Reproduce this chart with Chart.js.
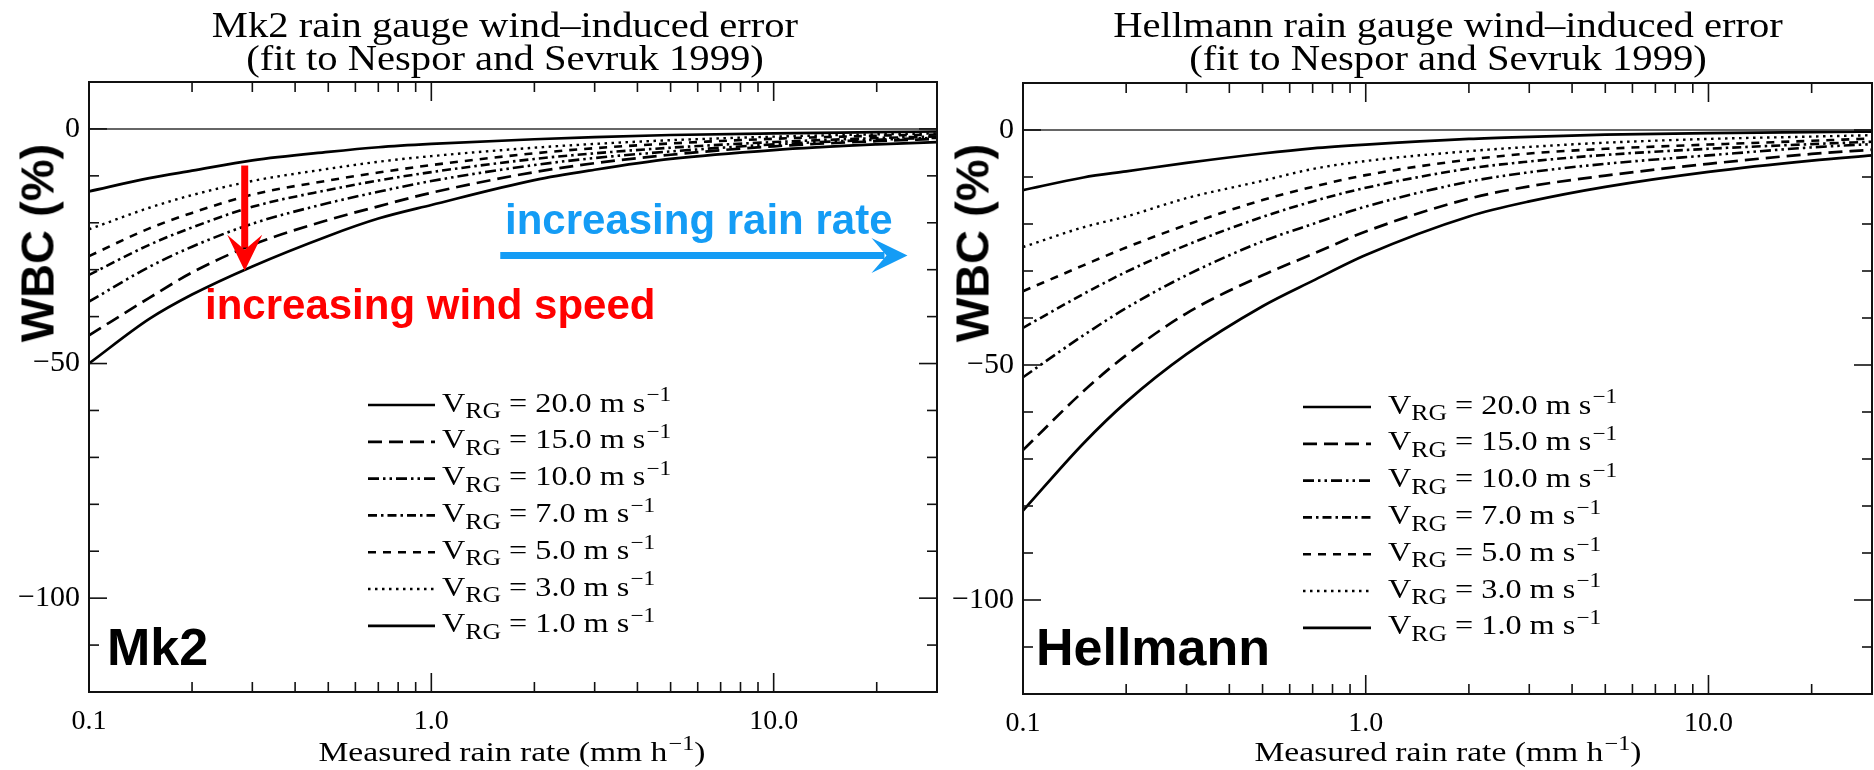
<!DOCTYPE html>
<html><head><meta charset="utf-8">
<script src="https://cdn.jsdelivr.net/npm/chart.js@4.4.1/dist/chart.umd.min.js"></script>
<style>
html,body{margin:0;padding:0;background:#fff;}
#wrap{position:relative;width:1874px;height:770px;overflow:hidden;background:#fff;}
canvas{position:absolute;top:0;}
.t{position:absolute;white-space:nowrap;line-height:0;}
.serif{font-family:'Liberation Serif','DejaVu Serif',serif;color:#000;}
.sans{font-family:'Liberation Sans',Arial,sans-serif;font-weight:bold;}
.sub{position:relative;font-size:0.8em;top:0.3em;}
.sup{position:relative;font-size:0.72em;top:-0.5em;margin-left:1px;}
.rot{position:absolute;white-space:nowrap;line-height:1;font-size:47px;color:#000;transform:translate(-50%,-50%) rotate(-90deg);}
</style></head>
<body><div id="wrap">
<canvas id="c1" width="940" height="770" style="left:0px"></canvas>
<canvas id="c2" width="934" height="770" style="left:940px"></canvas>
</div>
<script>
// ---------------- data ----------------
const rainRate = [0.1, 0.15, 0.2, 0.3, 0.5, 0.7, 1, 2, 3, 5, 10, 20, 30];
const windLabels = ['20.0', '15.0', '10.0', '7.0', '5.0', '3.0', '1.0'];

const mk2_20 = [-50.0, -40.5, -35.3, -29.3, -22.8, -19.1, -16.2, -10.9, -8.7, -6.4, -4.5, -3.3, -2.8];
const mk2_15 = [-44.0, -36.0, -30.6, -24.7, -19.4, -16.5, -13.6, -9.2, -7.3, -5.5, -3.7, -2.6, -2.1];
const mk2_10 = [-36.8, -29.4, -25.1, -20.2, -15.8, -13.4, -11.1, -7.7, -6.2, -4.8, -3.3, -2.3, -1.9];
const mk2_7  = [-31.1, -24.7, -21.0, -16.6, -13.0, -11.0, -9.2, -6.4, -5.2, -4.0, -2.8, -1.95, -1.6];
const mk2_5  = [-27.1, -21.2, -17.9, -14.0, -11.0, -9.3, -7.7, -5.2, -4.1, -3.1, -2.1, -1.45, -1.2];
const mk2_3  = [-21.4, -16.8, -14.1, -11.1, -8.5, -7.0, -5.8, -4.0, -3.2, -2.4, -1.65, -1.15, -0.95];
const mk2_1  = [-13.3, -10.5, -8.9, -6.7, -4.9, -3.9, -3.2, -2.2, -1.75, -1.3, -0.95, -0.7, -0.55];

const hel_20 = [-81.0, -66.7, -57.9, -47.7, -37.5, -32.1, -26.6, -18.4, -15.2, -12.1, -8.9, -6.5, -5.4];
const hel_15 = [-68.1, -55.6, -47.9, -39.0, -30.9, -26.4, -21.6, -14.6, -12.0, -9.7, -7.2, -5.1, -4.2];
const hel_10 = [-52.6, -43.7, -37.9, -30.9, -23.7, -20.0, -16.3, -11.0, -9.0, -7.2, -5.4, -3.7, -3.0];
const hel_7  = [-42.1, -34.9, -30.2, -24.5, -18.5, -15.2, -12.3, -8.2, -6.7, -5.3, -4.0, -3.0, -2.5];
const hel_5  = [-34.3, -28.8, -25.0, -20.2, -14.9, -12.1, -9.6, -6.3, -5.0, -4.0, -3.1, -2.3, -1.8];
const hel_3  = [-24.9, -20.7, -18.4, -14.5, -10.8, -8.3, -6.6, -4.5, -3.6, -2.7, -1.9, -1.4, -1.1];
const hel_1  = [-12.8, -10.1, -8.8, -7.0, -5.0, -3.9, -3.1, -1.9, -1.45, -1.0, -0.65, -0.45, -0.35];

const xTickLabels = [0.1, 1, 10];
const xMinorTicks = [0.2, 0.3, 0.4, 0.5, 0.6, 0.7, 0.8, 0.9, 2, 3, 4, 5, 6, 7, 8, 9, 20];
const yTickLabels = [0, -50, -100];
const yMinorTicks = [-10, -20, -30, -40, -60, -70, -80, -90, -110];

const redArrow = {x: 0.285, yFrom: -7.8, yTo: -30.2};
const blueArrow = {y: -27.0, xFrom: 1.59, xTo: 24.6};

// ---------------- styles ----------------
const lineStyles = [
  {dash: [], width: 2.7},
  {dash: [14, 7], width: 2.7},
  {dash: [11, 4, 2.5, 4, 2.5, 4], width: 2.6},
  {dash: [9, 4, 2.5, 4], width: 2.6},
  {dash: [8, 7], width: 2.6},
  {dash: [2.5, 4.5], width: 2.4},
  {dash: [], width: 2.7}
];

const framePlugin = {
  id: 'frame',
  afterDraw(chart) {
    const o = chart.options.plugins.frame;
    const {ctx, chartArea: a} = chart;
    const x = chart.scales.x, y = chart.scales.y;
    const ln = (x1, y1, x2, y2) => { ctx.beginPath(); ctx.moveTo(x1, y1); ctx.lineTo(x2, y2); ctx.stroke(); };
    ctx.save();
    ctx.setLineDash([]);
    ctx.strokeStyle = '#333';
    ctx.lineWidth = 1.5;
    const y0 = y.getPixelForValue(0);
    ln(a.left, y0, a.right, y0);
    ctx.strokeStyle = '#111';
    ctx.lineWidth = 2;
    ctx.strokeRect(a.left, a.top, a.right - a.left, a.bottom - a.top);
    ctx.lineWidth = 1.6;
    const yt = (v, L) => { const p = y.getPixelForValue(v); ln(a.left, p, a.left + L, p); ln(a.right, p, a.right - L, p); };
    yTickLabels.forEach(v => yt(v, 18));
    yMinorTicks.forEach(v => yt(v, 10));
    const xt = (v, L) => { const p = x.getPixelForValue(v); ln(p, a.bottom, p, a.bottom - L); ln(p, a.top, p, a.top + L); };
    xTickLabels.forEach(v => xt(v, 19));
    xMinorTicks.forEach(v => xt(v, 10));
    // legend samples
    chart.data.datasets.forEach((ds, i) => {
      const ly = o.legY + i * o.legDy;
      ctx.strokeStyle = '#000';
      ctx.lineWidth = ds.borderWidth;
      ctx.setLineDash(ds.borderDash || []);
      ln(o.legX0, ly, o.legX1, ly);
    });
    ctx.setLineDash([]);
    if (o.arrows) {
      const rx = x.getPixelForValue(redArrow.x);
      drawArrow(ctx, rx, y.getPixelForValue(redArrow.yFrom), rx, y.getPixelForValue(redArrow.yTo), '#ff0000');
      const by = y.getPixelForValue(blueArrow.y);
      drawArrow(ctx, x.getPixelForValue(blueArrow.xFrom), by, x.getPixelForValue(blueArrow.xTo), by, '#149cf5');
    }
    ctx.restore();
  }
};

function drawArrow(ctx, x1, y1, x2, y2, color) {
  const dx = x2 - x1, dy = y2 - y1, d = Math.hypot(dx, dy);
  const ux = dx / d, uy = dy / d, nx = -uy, ny = ux;
  const headLen = 36, half = 17.5, notch = 21;
  const bx = x2 - ux * headLen, by = y2 - uy * headLen;
  const mx = x2 - ux * notch, my = y2 - uy * notch;
  ctx.strokeStyle = color; ctx.fillStyle = color;
  ctx.lineWidth = 7; ctx.lineCap = 'butt';
  ctx.beginPath(); ctx.moveTo(x1, y1); ctx.lineTo(mx - ux * 2, my - uy * 2); ctx.stroke();
  ctx.beginPath();
  ctx.moveTo(x2, y2);
  ctx.lineTo(bx + nx * half, by + ny * half);
  ctx.lineTo(mx, my);
  ctx.lineTo(bx - nx * half, by - ny * half);
  ctx.closePath(); ctx.fill();
}

function makeChart(id, series, cfg) {
  const datasets = series.map((vals, i) => ({
    label: 'VRG = ' + windLabels[i] + ' m s-1',
    data: rainRate.map((r, k) => ({x: r, y: vals[k]})),
    borderColor: '#000',
    borderWidth: lineStyles[i].width,
    borderDash: lineStyles[i].dash,
    pointRadius: 0,
    fill: false,
    cubicInterpolationMode: 'monotone'
  }));
  return new Chart(document.getElementById(id), {
    type: 'line',
    data: {datasets},
    plugins: [framePlugin],
    options: {
      responsive: false,
      animation: false,
      layout: {padding: {left: 0, right: cfg.padRight, top: cfg.padTop, bottom: 0}},
      plugins: {legend: {display: false}, tooltip: {enabled: false}, title: {display: false}, frame: cfg.frame},
      scales: {
        x: {
          type: 'logarithmic', min: 0.1, max: 30,
          grid: {display: false, drawTicks: false}, border: {display: false},
          afterBuildTicks: s => { s.ticks = xTickLabels.map(v => ({value: v})); },
          afterFit: s => { s.height = cfg.xHeight; },
          ticks: {autoSkip: false, maxRotation: 0, padding: 13, color: '#000',
            font: {family: "'Liberation Serif', serif", size: 28, lineHeight: 1.2},
            callback: v => Number(v).toFixed(1)}
        },
        y: {
          type: 'linear', min: -120, max: 10,
          grid: {display: false, drawTicks: false}, border: {display: false},
          afterBuildTicks: s => { s.ticks = yTickLabels.map(v => ({value: v})); },
          afterFit: s => { s.width = cfg.yWidth; },
          ticks: {autoSkip: false, padding: 9, color: '#000',
            font: {family: "'Liberation Serif', serif", size: 30, lineHeight: 1.2},
            callback: v => v === 0 ? '0' : '\u2212' + Math.abs(v)}
        }
      }
    }
  });
}

makeChart('c1', [mk2_20, mk2_15, mk2_10, mk2_7, mk2_5, mk2_3, mk2_1],
  {padRight: 3, padTop: 82, xHeight: 78, yWidth: 89,
   frame: {legX0: 368, legX1: 435, legY: 405, legDy: 36.8, arrows: true}});
makeChart('c2', [hel_20, hel_15, hel_10, hel_7, hel_5, hel_3, hel_1],
  {padRight: 2, padTop: 83, xHeight: 76, yWidth: 83,
   frame: {legX0: 363, legX1: 431, legY: 407, legDy: 36.8, arrows: false}});

// ---------------- text overlays ----------------
const wrap = document.getElementById('wrap');
function addText(html, cls, left, baseline, size, extra) {
  const d = document.createElement('div');
  d.className = 't ' + cls;
  d.innerHTML = html;
  const k = cls.indexOf('sans') >= 0 ? 0.3465 : 0.3375;
  d.style.left = left + 'px';
  d.style.top = (baseline - k * size) + 'px';
  d.style.fontSize = size + 'px';
  if (extra) Object.assign(d.style, extra);
  wrap.appendChild(d);
  return d;
}
const centered = s => ({transform: 'translateX(-50%) scaleX(' + s + ')'});
const leftStretch = s => ({transform: 'scaleX(' + s + ')', transformOrigin: '0 0'});

const titles = [
  ['Mk2 rain gauge wind\u2013induced error', '(fit to Nespor and Sevruk 1999)', 505, 512],
  ['Hellmann rain gauge wind\u2013induced error', '(fit to Nespor and Sevruk 1999)', 1448, 1448]
];
titles.forEach(t => {
  addText(t[0], 'serif', t[2], 37.5, 35, centered(1.16));
  addText(t[1], 'serif', t[2], 70.5, 35, centered(1.16));
  addText('Measured rain rate (mm h<span class="sup">\u22121</span>)', 'serif', t[3], 761, 28, centered(1.2));
});

[[442, 412], [1388, 414]].forEach(([lx, by]) => {
  windLabels.forEach((w, i) => {
    addText('V<span class="sub">RG</span> = ' + w + ' m s<span class="sup">\u22121</span>', 'serif',
      lx, by + i * 36.8, 28, leftStretch(1.15));
  });
});

addText('Mk2', 'sans', 107, 665, 52, {color: '#000'});
addText('Hellmann', 'sans', 1036, 665, 52, {color: '#000'});
addText('increasing rain rate', 'sans', 505, 235, 42, {color: '#149cf5'});
addText('increasing wind speed', 'sans', 205, 320, 42, {color: '#ff0000'});

[37, 972].forEach(cx => {
  const d = document.createElement('div');
  d.className = 'rot sans';
  d.textContent = 'WBC (%)';
  d.style.left = cx + 'px';
  d.style.top = '243px';
  wrap.appendChild(d);
});
</script>
</body></html>
